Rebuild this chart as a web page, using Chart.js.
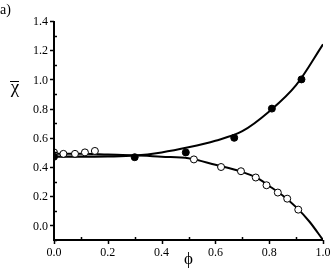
<!DOCTYPE html>
<html>
<head>
<meta charset="utf-8">
<script src="https://cdn.jsdelivr.net/npm/chart.js@4/dist/chart.umd.min.js"></script>
<style>
  body { margin: 0; background: #fff; font-family: "Liberation Serif", serif; }
  #wrap { position: relative; width: 332px; height: 272px; }
</style>
</head>
<body>
<div id="wrap"><canvas id="grafico" width="332" height="272"></canvas></div>
<script>
// Datos
const filledX = [0, 0.30, 0.49, 0.67, 0.81, 0.92];
const filledY = [0.47, 0.467, 0.50, 0.60, 0.80, 1.00];

const openX = [0, 0.035, 0.078, 0.115, 0.152, 0.52, 0.621, 0.695, 0.75, 0.79, 0.832, 0.867, 0.908];
const openY = [0.50, 0.49, 0.49, 0.50, 0.51, 0.452, 0.40, 0.371, 0.328, 0.275, 0.225, 0.183, 0.108];

const upperX = [0, 0.1, 0.2, 0.3, 0.4, 0.5, 0.6, 0.7, 0.8, 0.9, 1.0];
const upperY = [0.47, 0.47, 0.472, 0.478, 0.50, 0.535, 0.58, 0.645, 0.78, 0.96, 1.24];

const lowerX = [0, 0.1, 0.2, 0.3, 0.4, 0.5, 0.6, 0.7, 0.75, 0.8, 0.85, 0.9, 0.95, 1.0];
const lowerY = [0.49, 0.49, 0.485, 0.48, 0.47, 0.46, 0.415, 0.366, 0.33, 0.27, 0.205, 0.125, 0.025, -0.1];

const grayX = [0, 0.1, 0.2, 0.245];
const grayY = [0.475, 0.475, 0.476, 0.478];

const xTicks = [0.0, 0.2, 0.4, 0.6, 0.8, 1.0];
const yTicks = [0.0, 0.2, 0.4, 0.6, 0.8, 1.0, 1.2, 1.4];
const xMinor = [0.1, 0.3, 0.5, 0.7, 0.9];
const yMinor = [-0.1, 0.1, 0.3, 0.5, 0.7, 0.9, 1.1, 1.3];

const fuente = '"Liberation Serif", "Times New Roman", serif';
const pts = (xs, ys) => xs.map((x, i) => ({ x: x, y: ys[i] }));

// Ejes dibujados a mano (estilo Origin)
const ejes = {
  id: 'ejes',
  afterDraw(chart) {
    const c = chart.ctx;
    const xs = chart.scales.x, ys = chart.scales.y;
    const a = chart.chartArea;
    c.save();
    c.strokeStyle = '#000';
    c.fillStyle = '#000';
    c.lineWidth = 2;
    c.beginPath();
    c.moveTo(a.left, a.top);
    c.lineTo(a.left, a.bottom);
    c.lineTo(a.right, a.bottom);
    c.stroke();

    c.lineWidth = 1.5;
    c.beginPath();
    yTicks.forEach(v => { const y = Math.round(ys.getPixelForValue(v)) + 0.5; c.moveTo(a.left - 4, y); c.lineTo(a.left, y); });
    yMinor.forEach(v => { const y = Math.round(ys.getPixelForValue(v)) + 0.5; c.moveTo(a.left, y); c.lineTo(a.left + 3, y); });
    xTicks.forEach(v => { const x = Math.round(xs.getPixelForValue(v)) + 0.5; c.moveTo(x, a.bottom); c.lineTo(x, a.bottom + 4); });
    xMinor.forEach(v => { const x = Math.round(xs.getPixelForValue(v)) + 0.5; c.moveTo(x, a.bottom); c.lineTo(x, a.bottom - 3); });
    c.stroke();

    c.font = '12px ' + fuente;
    c.textAlign = 'right';
    c.textBaseline = 'middle';
    yTicks.forEach(v => c.fillText(v.toFixed(1), a.left - 6, ys.getPixelForValue(v) + 1));
    c.textAlign = 'center';
    c.textBaseline = 'top';
    xTicks.forEach(v => c.fillText(v.toFixed(1), xs.getPixelForValue(v), a.bottom + 7));

    // títulos
    c.font = '17px ' + fuente;
    c.fillText('\u03D5', xs.getPixelForValue(0.5), 251);
    c.font = '19px ' + fuente;
    c.textBaseline = 'alphabetic';
    c.fillText('\u03C7', 15, 93);
    c.lineWidth = 1;
    c.beginPath();
    c.moveTo(10, 81.5);
    c.lineTo(19, 81.5);
    c.stroke();
    c.font = '14px ' + fuente;
    c.textAlign = 'left';
    c.fillText('a)', 0, 14);
    c.restore();
  }
};

function dibujar() {
  const ctx = document.getElementById('grafico').getContext('2d');
  new Chart(ctx, {
    type: 'scatter',
    data: {
      datasets: [
        {
          data: pts(filledX, filledY),
          pointRadius: 3.5,
          pointBackgroundColor: '#000',
          pointBorderColor: '#000',
          pointBorderWidth: 1,
          order: 0
        },
        {
          data: pts(openX, openY),
          pointRadius: 3.5,
          pointBackgroundColor: '#fff',
          pointBorderColor: '#000',
          pointBorderWidth: 1,
          order: 0
        },
        {
          data: pts(upperX, upperY),
          showLine: true,
          pointRadius: 0,
          borderColor: '#000',
          borderWidth: 2,
          cubicInterpolationMode: 'monotone',
          order: 2
        },
        {
          data: pts(lowerX, lowerY),
          showLine: true,
          pointRadius: 0,
          borderColor: '#000',
          borderWidth: 2,
          cubicInterpolationMode: 'monotone',
          order: 2
        },
        {
          data: pts(grayX, grayY),
          showLine: true,
          pointRadius: 0,
          borderColor: '#888',
          borderWidth: 1.5,
          order: 3
        }
      ]
    },
    options: {
      responsive: false,
      animation: false,
      layout: { padding: { left: 54, right: 9, top: 21, bottom: 32 } },
      plugins: { legend: { display: false }, tooltip: { enabled: false } },
      scales: {
        x: { type: 'linear', min: 0, max: 1, display: false },
        y: { type: 'linear', min: -0.1, max: 1.4, display: false }
      }
    },
    plugins: [ejes]
  });
}

// esperar a que la fuente serif esté lista antes de dibujar en el canvas
Promise.all([
  document.fonts.load('12px "Liberation Serif"'),
  document.fonts.load('17px "Liberation Serif"', '\u03D5\u03C7')
]).then(dibujar, dibujar);
</script>
</body>
</html>
